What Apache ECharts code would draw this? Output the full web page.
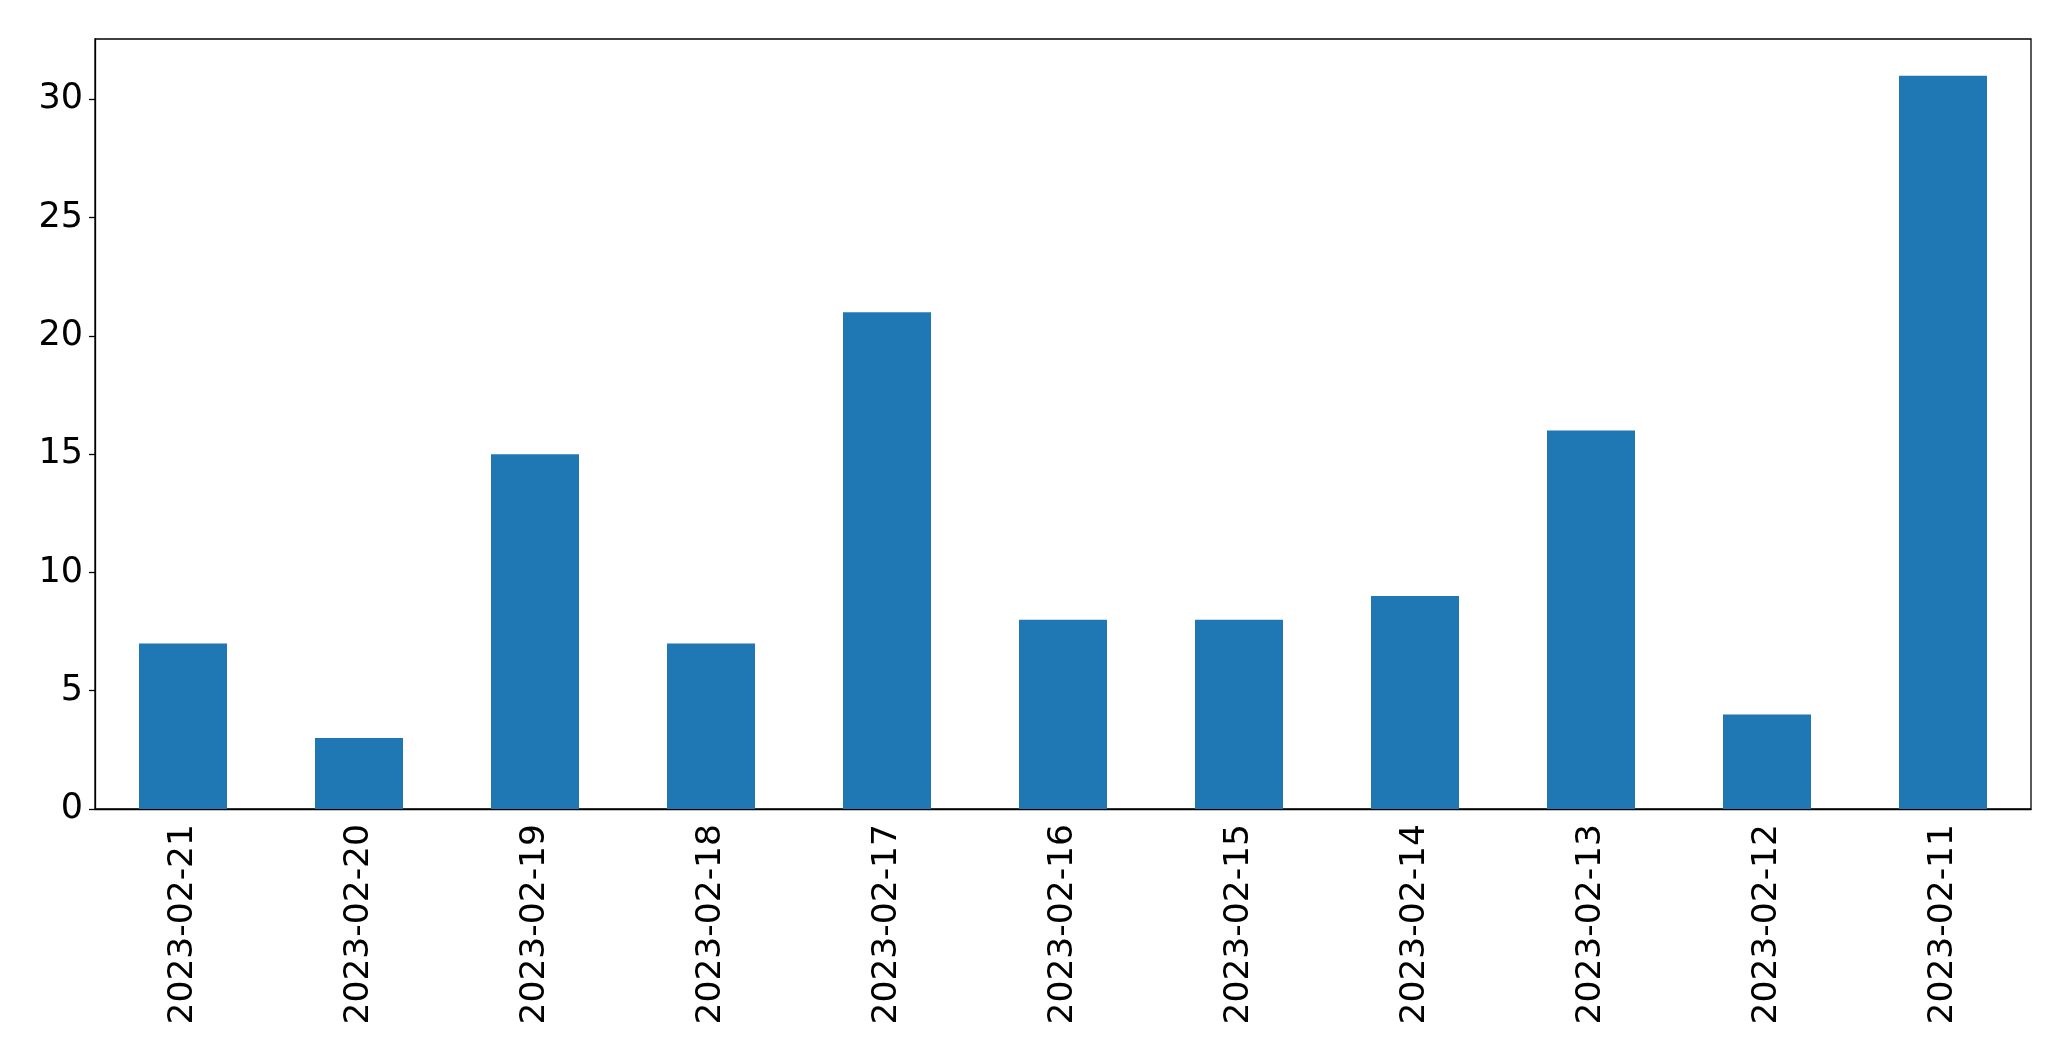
<!DOCTYPE html>
<html>
<head>
<meta charset="utf-8">
<script src="https://cdn.jsdelivr.net/npm/echarts@6/dist/echarts.min.js"></script>
<style>html,body{margin:0;padding:0;background:#fff;}#c{width:2071px;height:1061px;}</style>
</head>
<body>
<div id="c"></div>
<script>
const categories = ['2023-02-21','2023-02-20','2023-02-19','2023-02-18','2023-02-17','2023-02-16','2023-02-15','2023-02-14','2023-02-13','2023-02-12','2023-02-11'];
const values = [7, 3, 15, 7, 21, 8, 8, 9, 16, 4, 31];
const yTicks = [0, 5, 10, 15, 20, 25, 30];

const chart = echarts.init(document.getElementById('c'), null, {renderer: 'canvas'});
const font = 'DejaVu Sans';
chart.setOption({
  animation: false,
  grid: {left: 95, right: 40, top: 39, bottom: 252, show: true, borderColor: '#000', borderWidth: 1.3, containLabel: false},
  xAxis: {
    type: 'category',
    data: categories,
    axisLine: {lineStyle: {color: '#000', width: 1.3}},
    axisTick: {alignWithLabel: true, length: 6, lineStyle: {color: '#000', width: 1.3}},
    axisLabel: {rotate: 90, margin: 15, color: '#000', fontFamily: font, fontSize: 34.5, interval: 0},
    splitLine: {show: false}
  },
  yAxis: {
    type: 'value',
    min: 0,
    max: 32.55,
    interval: 5,
    axisLine: {show: true, lineStyle: {color: '#000', width: 1.3}},
    axisTick: {show: true, length: 6, customValues: yTicks, lineStyle: {color: '#000', width: 1.3}},
    axisLabel: {margin: 12, color: '#000', fontFamily: font, fontSize: 35, customValues: yTicks},
    splitLine: {show: false}
  },
  series: [{
    type: 'bar',
    data: values,
    barWidth: '50%',
    itemStyle: {color: '#1f77b4'}
  }]
});
</script>
</body>
</html>
